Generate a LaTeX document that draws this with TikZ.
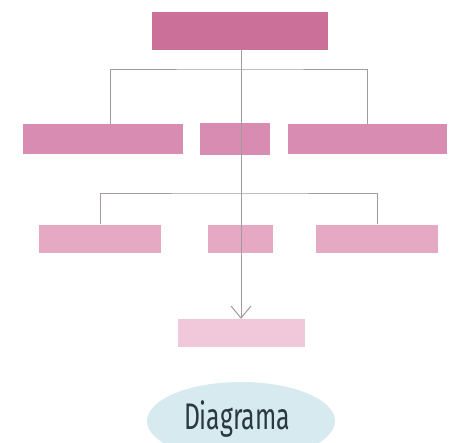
\documentclass[tikz,border=0pt]{standalone}
\usepackage{xcolor}
\usepackage{fontspec}
\usetikzlibrary{arrows.meta,shapes,positioning}
\newfontfamily\labelfont[FakeStretch=0.67]{Fira Sans}

\definecolor{topfill}{HTML}{CB7098}
\definecolor{midfill}{HTML}{D98CB1}
\definecolor{lowfill}{HTML}{E5A9C4}
\definecolor{endfill}{HTML}{F0C8DA}
\definecolor{ovalfill}{HTML}{D6EAF0}
\definecolor{linkcol}{HTML}{A39A9E}
\definecolor{textcol}{HTML}{2B3840}

\tikzset{
    box/.style={rectangle,inner sep=0pt,draw=none},
    link/.style={draw=linkcol,line width=1pt}
}

\begin{document}
\begin{tikzpicture}[x=1pt,y=-1pt]
    \useasboundingbox (0,0) rectangle (458,442);

    % Top box
    \node[box,fill=topfill,minimum width=176pt,minimum height=38pt] (top) at (240,31) {};

    % Second row
    \node[box,fill=midfill,minimum width=160pt,minimum height=30pt] (midL) at (103,139) {};
    \node[box,fill=midfill,minimum width=70pt,minimum height=32pt] (midC) at (235,139) {};
    \node[box,fill=midfill,minimum width=159pt,minimum height=30pt] (midR) at (367.5,139) {};

    % Third row
    \node[box,fill=lowfill,minimum width=122pt,minimum height=28pt] (lowL) at (100,238.5) {};
    \node[box,fill=lowfill,minimum width=65pt,minimum height=28pt] (lowC) at (240,238.5) {};
    \node[box,fill=lowfill,minimum width=122pt,minimum height=28pt] (lowR) at (377,238.5) {};

    % Last box
    \node[box,fill=endfill,minimum width=127pt,minimum height=28pt] (target) at (241.5,333) {};

    % Branches
    \coordinate (fork1) at (241,69);
    \coordinate (fork2) at (241,193);
    \draw[link] ([xshift=7pt]midL.north) |- (fork1) -| (midR.north);
    \draw[link] (lowL.north) |- (fork2) -| (lowR.north);

    % Main line
    \draw[link,-{Straight Barb[length=12pt,width=20pt]}] (top.south -| fork1) -- (target.north -| fork1);

    % Title
    \node[ellipse,fill=ovalfill,minimum width=188pt,minimum height=78pt,inner sep=0pt] (oval) at (241,421) {};
    \node[text=textcol,font=\labelfont\fontsize{37}{37}\selectfont] (title) at (237,419) {Diagrama};
\end{tikzpicture}
\end{document}
